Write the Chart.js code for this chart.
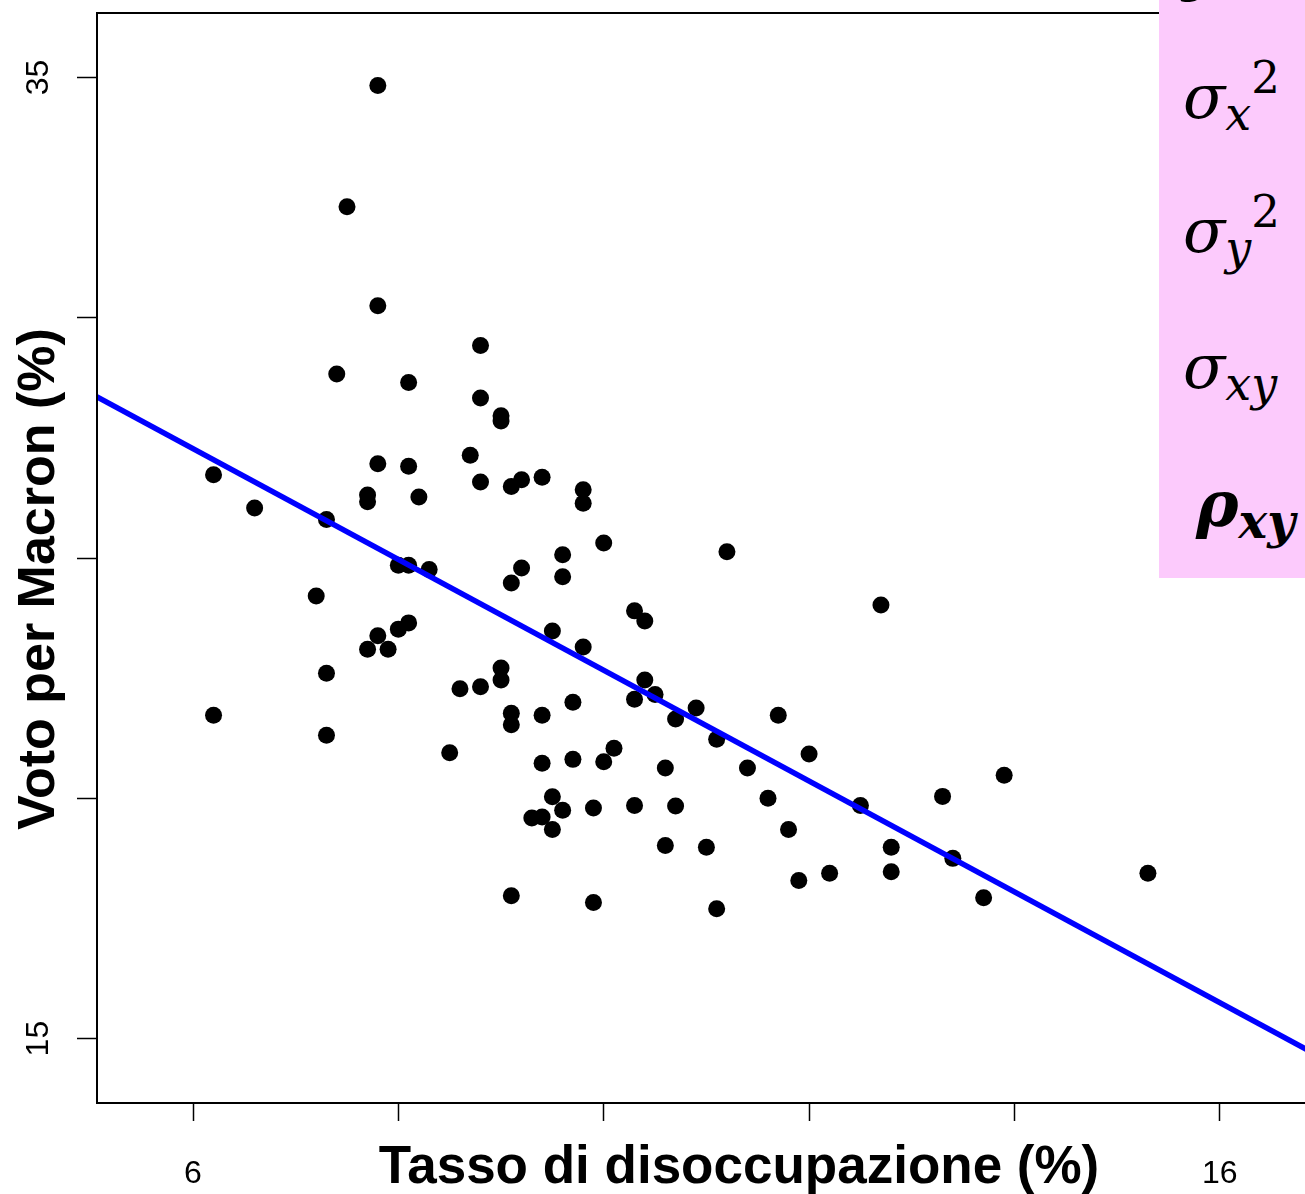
<!DOCTYPE html>
<html lang="it">
<head>
<meta charset="UTF-8">
<title>Voto per Macron e disoccupazione</title>
<script src="https://cdn.jsdelivr.net/npm/chart.js@4.4.0/dist/chart.umd.min.js"></script>
<style>
  html, body { margin: 0; padding: 0; overflow: hidden; background: #fff; }
  #wrap { position: relative; width: 1381px; height: 1194px; }
  #chart { position: absolute; left: 0; top: 0; }
  #stats {
    position: absolute; left: 1159px; top: 0;
    width: 222px; height: 578px;
    background: #fccafc;
    overflow: hidden;
  }
  .sym {
    position: absolute; left: 24px;
    font-family: 'DejaVu Serif', serif; font-style: italic;
    font-size: 62px; line-height: 62px;
    color: #000; white-space: nowrap;
  }
  .sym .lo { font-size: 46px; line-height: 0; position: relative; top: 12px; }
  .sym .hi { font-size: 45px; line-height: 0; font-style: normal; position: relative; top: -25px; }
  .sym.bold { font-weight: bold; left: 37px; font-size: 64px; }
  .sym.bold .lo { font-size: 48px; }
</style>
</head>
<body>
<div id="wrap">
  <canvas id="chart" width="1381" height="1194"></canvas>
  <div id="stats">
    <div class="sym" style="top:-64px">y&#772;</div>
    <div class="sym" style="top:66px">&sigma;<span class="lo">x</span><span class="hi">2</span></div>
    <div class="sym" style="top:200px">&sigma;<span class="lo">y</span><span class="hi">2</span></div>
    <div class="sym" style="top:336px">&sigma;<span class="lo">xy</span></div>
    <div class="sym bold" style="top:473px">&rho;<span class="lo">xy</span></div>
  </div>
</div>

<script>
// disoccupazione (%) e voto per Macron (%) per dipartimento
const unemployment = [
  7.8, 7.5, 7.8, 8.8, 7.4, 8.1, 8.8, 9.0, 9.0, 8.7,
  7.8, 8.1, 6.2, 9.4, 8.8, 9.2, 9.1, 9.8, 7.7, 7.7,
  8.2, 9.8, 6.6, 7.3, 10.0, 11.2, 9.6, 8.0, 8.1, 8.3,
  9.2, 9.6, 9.1, 7.2, 12.7, 10.3, 10.4, 8.1, 8.0, 9.5,
  7.8, 9.8, 7.7, 7.9, 9.0, 7.3, 9.0, 10.4, 8.6, 8.8,
  10.5, 10.3, 9.7, 10.9, 9.1, 6.2, 9.4, 11.7, 10.7, 9.1,
  7.3, 11.1, 10.1, 8.5, 12.0, 9.7, 10.0, 9.4, 10.6, 11.4,
  13.9, 9.5, 13.3, 11.6, 10.3, 10.7, 12.5, 9.9, 9.6, 9.3,
  9.4, 9.5, 11.8, 10.6, 11.0, 12.8, 13.4, 12.2, 12.8, 15.3,
  11.9, 9.1, 13.7, 9.9, 11.1
];
const macronVote = [
  34.83, 32.31, 30.25, 29.42, 28.83, 28.65, 28.33, 27.96, 27.85, 27.14,
  26.96, 26.91, 26.73, 26.68, 26.58, 26.63, 26.49, 26.42, 26.31, 26.17,
  26.27, 26.14, 26.04, 25.80, 25.31, 25.13, 25.07, 24.85, 24.85, 24.76,
  24.79, 24.61, 24.48, 24.21, 24.02, 23.90, 23.69, 23.65, 23.52, 23.48,
  23.38, 23.15, 23.10, 23.10, 22.71, 22.60, 22.46, 22.46, 22.28, 22.32,
  22.16, 22.06, 22.00, 21.88, 21.77, 21.73, 21.73, 21.73, 21.65, 21.53,
  21.31, 21.23, 21.04, 20.95, 20.92, 20.81, 20.76, 20.73, 20.63, 20.63,
  20.48, 20.03, 20.04, 20.00, 19.85, 19.84, 19.85, 19.80, 19.75, 19.59,
  19.61, 19.35, 19.35, 19.02, 18.98, 18.98, 18.75, 18.44, 18.47, 18.44,
  18.29, 17.97, 17.93, 17.83, 17.70
];

// retta di regressione (estremi)
const fitX = [5, 18];
const fitY = [28.43, 13.44];

const xTickValues = [6, 8, 10, 12, 14, 16];
const xTickLabels = ['6', '', '', '', '', '16'];
const yTickValues = [15, 20, 25, 30, 35];
const yTickLabels = ['15', '', '', '', '35'];

const xTitle = 'Tasso di disoccupazione (%)';
const yTitle = 'Voto per Macron (%)';

const points = unemployment.map((x, i) => ({ x: x, y: macronVote[i] }));
const fitLine = fitX.map((x, i) => ({ x: x, y: fitY[i] }));

// riquadro del grafico e titoli degli assi
const frameAndTitles = {
  id: 'frameAndTitles',
  afterDraw(chart) {
    const { ctx, chartArea } = chart;
    ctx.save();
    ctx.strokeStyle = '#000';
    ctx.lineWidth = 2;
    ctx.strokeRect(chartArea.left, chartArea.top, chartArea.width, chartArea.height);

    ctx.fillStyle = '#000';
    ctx.textAlign = 'center';
    ctx.textBaseline = 'alphabetic';
    ctx.font = 'bold 53px "Liberation Sans", Arial, sans-serif';
    ctx.fillText(xTitle, (chartArea.left + chartArea.right) / 2, 1183);

    ctx.font = 'bold 52px "Liberation Sans", Arial, sans-serif';
    ctx.translate(54, (chartArea.top + chartArea.bottom) / 2 + 21);
    ctx.rotate(-Math.PI / 2);
    ctx.fillText(yTitle, 0, 0);
    ctx.restore();
  }
};

const tickFont = { family: '"Liberation Sans", Arial, sans-serif', size: 32 };

new Chart(document.getElementById('chart').getContext('2d'), {
  type: 'scatter',
  data: {
    datasets: [
      {
        data: fitLine,
        showLine: true,
        borderColor: '#0000ff',
        borderWidth: 5.5,
        pointRadius: 0,
        clip: 0,
        order: 0
      },
      {
        data: points,
        backgroundColor: '#000',
        borderColor: '#000',
        borderWidth: 0,
        pointRadius: 8.5,
        order: 1
      }
    ]
  },
  options: {
    responsive: false,
    animation: false,
    layout: { autoPadding: false, padding: { top: 13, right: 0, bottom: 0, left: 0 } },
    plugins: {
      legend: { display: false },
      tooltip: { enabled: false }
    },
    scales: {
      x: {
        type: 'linear',
        min: 5.065,
        max: 17.57,
        afterBuildTicks: s => { s.ticks = xTickValues.map(v => ({ value: v })); },
        afterFit: s => { s.height = 91; s.paddingLeft = 0; s.paddingRight = 0; },
        border: { display: false },
        grid: { drawOnChartArea: false, drawTicks: true, tickLength: 18, tickColor: '#000', tickWidth: 1.5 },
        ticks: {
          autoSkip: false,
          maxRotation: 0,
          padding: 34,
          color: '#000',
          font: tickFont,
          callback: v => xTickLabels[xTickValues.indexOf(v)]
        }
      },
      y: {
        type: 'linear',
        min: 13.66,
        max: 36.34,
        afterBuildTicks: s => { s.ticks = yTickValues.map(v => ({ value: v })); },
        afterFit: s => { s.width = 97; s.paddingTop = 0; s.paddingBottom = 0; },
        border: { display: false },
        grid: { drawOnChartArea: false, drawTicks: true, tickLength: 20, tickColor: '#000', tickWidth: 1.5 },
        ticks: {
          autoSkip: false,
          minRotation: 90,
          maxRotation: 90,
          crossAlign: 'center',
          padding: 20,
          color: '#000',
          font: tickFont,
          callback: v => yTickLabels[yTickValues.indexOf(v)]
        }
      }
    }
  },
  plugins: [frameAndTitles]
});
</script>
</body>
</html>
